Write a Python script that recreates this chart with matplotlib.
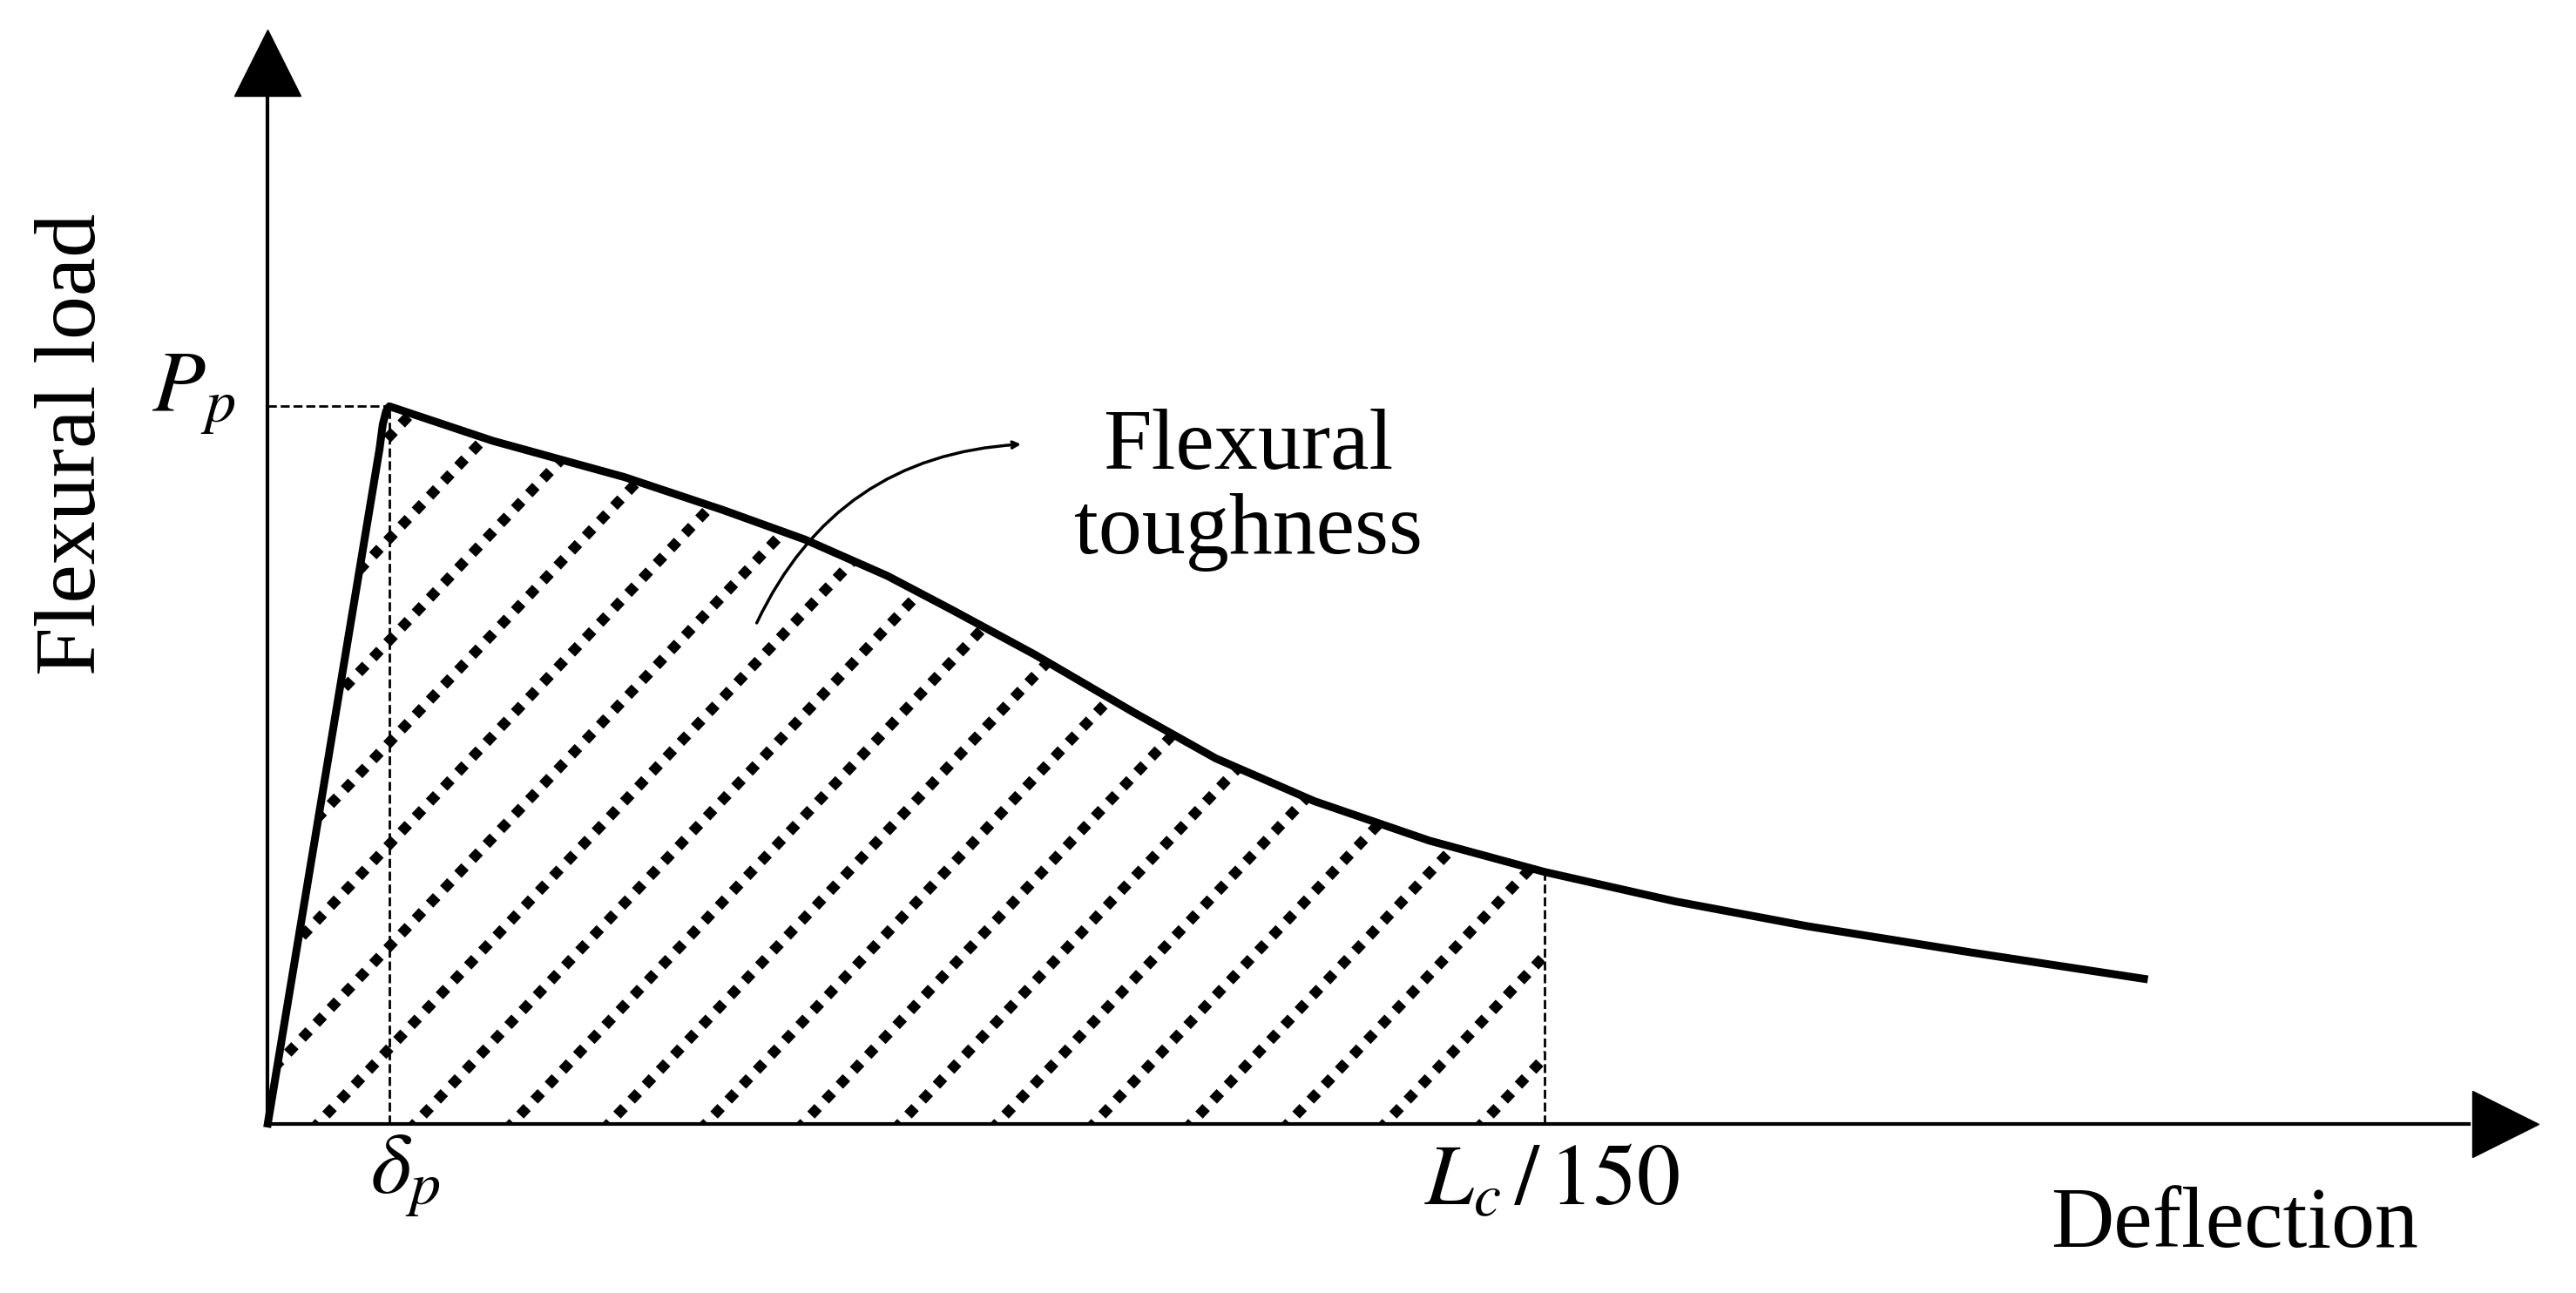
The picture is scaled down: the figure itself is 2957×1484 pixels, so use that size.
import numpy as np
import matplotlib.pyplot as plt
from matplotlib.path import Path
from matplotlib.patches import PathPatch, FancyArrowPatch

plt.rcParams['font.family'] = ['Liberation Serif', 'DejaVu Serif']
plt.rcParams['mathtext.fontset'] = 'stix'

# --- DATA (schematic units) ---------------------------------------------------
defl = [0, 68, 70, 72, 74, 137, 217, 277, 327, 377, 417, 467, 527, 577, 637,
        707, 777, 857, 937, 1037, 1142]
load = [0, 410, 425, 433, 436, 415, 393, 373, 355, 333, 312, 285, 250, 222, 196,
        172, 153, 135, 120, 104, 88]
delta_p = 74
peak_p = 436
x_end = 777  # L_c / 150

fig = plt.figure(figsize=(29.57, 14.84), dpi=100)
ax = fig.add_axes([0, 0, 1, 1])
ax.set_xlim(-163, 1405)
ax.set_ylim(-103, 683)
ax.axis("off")

# --- HATCHED AREA ---------------------------------------------------------------
xs = np.array(defl, float)
ys = np.array(load, float)
y_end = np.interp(x_end, xs, ys)
mask = xs < x_end
poly_x = np.concatenate([xs[mask], [x_end, x_end, 0]])
poly_y = np.concatenate([ys[mask], [y_end, 0, 0]])
clip = PathPatch(Path(np.column_stack([poly_x, poly_y])), fc="none", ec="none")
ax.add_patch(clip)
for c in np.arange(-900, 900, 62):
    xx = np.array([-100, 1000])
    ln, = ax.plot(xx, xx * 1.05 + c, color="black", lw=8.5,
                  dashes=(1, 1), solid_capstyle="butt", dash_capstyle="butt")
    ln.set_clip_path(clip)

# --- CURVE ----------------------------------------------------------------------
ax.plot(defl, load, color="black", lw=6.5, solid_joinstyle="round")

# dashed guides
ax.plot([delta_p, delta_p], [0, peak_p], "k--", lw=2)
ax.plot([0, delta_p], [peak_p, peak_p], "k--", lw=2)
ax.plot([x_end, x_end], [0, y_end], "k--", lw=2)

# --- AXES -----------------------------------------------------------------------
ax.plot([0, 1340], [0, 0], color="black", lw=3)
ax.plot([0, 0], [0, 630], color="black", lw=3)
ax.plot(1362, 0, marker=">", ms=55, color="black")
ax.plot(0, 645, marker="^", ms=55, color="black")

# --- TEXT -----------------------------------------------------------------------
fs = 72
ax.text(-118, 413, "Flexural load", rotation=90, fontsize=fs, ha="center", va="center")
ax.text(1197, -62, "Deflection", fontsize=fs, ha="center", va="center")
ax.text(-45, 443, r"$P_p$", fontsize=fs, ha="center", va="center")
ax.text(84, -32, r"$\delta_p$", fontsize=fs, ha="center", va="center")
ax.text(782, -37, r"$L_c\,/\,150$", fontsize=fs, ha="center", va="center")
ax.text(597, 385, "Flexural\ntoughness", fontsize=fs, ha="center", va="center",
        linespacing=1.1)

arrow = FancyArrowPatch((297, 303), (460, 413), connectionstyle="arc3,rad=-0.3",
                        arrowstyle="->,head_length=5,head_width=2.5", lw=2.5,
                        color="black")
ax.add_patch(arrow)

fig.savefig("out.png", dpi=100)
